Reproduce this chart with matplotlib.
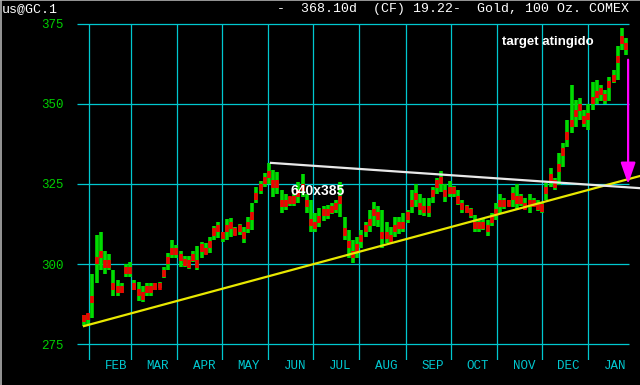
import matplotlib
matplotlib.use('Agg')
import matplotlib.pyplot as plt
from matplotlib.lines import Line2D
import pandas as pd
import numpy as np

# daily-ish bars (every ~2 sessions), Jan 2002 - Jan 2003
hi = [284, 284.5, 297, 309, 310, 304, 303, 298, 295, 294,
      300, 300.5, 295, 294.5, 293, 294, 294, 294, 294.5, 299,
      303.5, 307.5, 306, 304, 302.5, 302.5, 304, 305.5, 307, 306.5,
      308.5, 312, 313, 310, 314, 314.5, 311.5, 312.5, 311.5, 314.7,
      319, 324, 326, 328.4, 331.5, 329.4, 328.7, 323, 322, 321,
      322, 325.6, 328, 322, 320, 316, 317.5, 318, 318.5, 319,
      320, 325.6, 314.7, 310.6, 307.5, 308.5, 310.6, 313, 317, 319.4,
      318, 317, 313, 311.5, 314.7, 314.7, 316, 317, 323, 325,
      322, 320.6, 320.6, 324, 327, 329, 325, 326, 324.5, 323,
      320, 318.5, 317.5, 315.3, 313.8, 314.4, 313.8, 316, 319, 322,
      320.6, 320, 324, 325, 322, 320.6, 322, 320.6, 320, 319.4,
      325.3, 330, 327, 334.7, 337.8, 345, 356, 351.25, 352, 348,
      350, 357, 357.5, 356, 354.4, 358.4, 360.6, 368, 373.7, 370.6]
lo = [280.5, 280.5, 283, 294, 298, 297, 298, 290, 290, 291,
      296, 296, 292, 288.5, 288, 290, 290, 292, 292.5, 295.7,
      298, 302, 302, 299, 299, 298.5, 300.5, 298, 302, 303,
      303.5, 307.5, 308, 307, 307.5, 308.5, 309, 309, 306.5, 309.7,
      310.6, 319, 322, 324, 325, 321, 322, 316, 317, 318,
      318, 319, 321, 316, 310, 310, 311.5, 313.5, 314, 315.5,
      316, 314.7, 307.5, 302, 300.3, 302, 305, 308.5, 310, 312,
      311.5, 305, 306.5, 306.5, 308.5, 309.5, 310, 312.8, 316, 317.8,
      315.3, 315, 314.7, 319, 322, 322.5, 319.4, 321, 321, 318.4,
      316, 316, 314.4, 310, 310, 310.6, 308.75, 312, 313.8, 316,
      317.2, 318, 317.8, 317, 318, 317.2, 316, 318, 316.5, 316,
      320, 324, 323, 324.7, 330.3, 336.6, 341, 342.8, 345, 342.8,
      342, 348, 350, 351, 350, 351, 356.5, 357.5, 366.9, 365.3]
cl = [283, 283.5, 289, 301, 303, 300, 300, 293, 292, 292,
      298, 298, 293, 291, 290, 292, 292, 293, 293, 297,
      301, 304, 304, 302, 300.5, 300, 302, 300, 305, 304,
      306, 310, 311, 309, 311, 312, 310, 311, 309, 312,
      315, 321, 324, 326, 328, 325, 325, 319, 319, 320,
      320, 322, 324, 319, 313, 312, 314, 316, 316, 317,
      318, 320, 310, 306, 303, 305, 308, 311, 313, 316,
      315, 309, 309, 308, 311, 312, 312, 315, 319, 321,
      318, 317, 317, 322, 325, 326, 322, 323, 323, 320,
      318, 317, 316, 312, 312, 312, 311, 314, 316, 319,
      319, 319, 321, 320, 320, 318, 319, 319, 318, 317.5,
      323, 327, 325, 330, 335, 340, 344, 347, 349, 345,
      346, 351, 353, 354, 352, 356, 358, 364, 370, 368.1]

months = ['FEB', 'MAR', 'APR', 'MAY', 'JUN', 'JUL', 'AUG', 'SEP', 'OCT', 'NOV', 'DEC', 'JAN']
month_starts = pd.date_range('2002-02-01', '2003-01-01', freq='MS')
yticks = [275, 300, 325, 350, 375]

# trend lines and target arrow
yellow_d = ['2002-01-28 16:00', '2003-02-04 18:00']
yellow_p = [280.6, 327.5]
white_d = ['2002-06-02 20:00', '2003-02-04 18:00']
white_p = [331.6, 323.7]
arrow_d = '2003-01-27 20:00'
arrow_p = [364.7, 324.1]

GREEN = '#00dc00'
RED = '#f00000'
CYAN = '#00c8d0'

dates = pd.date_range('2002-01-28 16:00', '2003-01-26 14:00', periods=len(hi))

fig = plt.figure(figsize=(6.4, 3.85), dpi=100, facecolor='black')
ax = fig.add_axes([77/640, 1 - 360/385, 1 - 77/640, 340/385])
ax.set_facecolor('black')
for s in ax.spines.values():
    s.set_visible(False)

x0 = pd.Timestamp('2002-01-24')
x1 = pd.Timestamp('2003-02-04 19:00')
ax.set_xlim(x0, x1)
ax.set_ylim(270, 376.25)

# grid
ax.hlines(yticks, x0, pd.Timestamp('2003-01-28 10:00'), color=CYAN, lw=0.9, zorder=1)
ax.vlines(month_starts, 270, 375, color=CYAN, lw=0.9, zorder=1)

# price bars
hi_a, lo_a, cl_a = np.array(hi), np.array(lo), np.array(cl)
ax.vlines(dates, lo_a, hi_a, color=GREEN, lw=2.6, zorder=3)
ax.vlines(dates, cl_a - 1.1, cl_a + 1.1, color=RED, lw=2.6, zorder=4)

ax.plot(pd.to_datetime(yellow_d), yellow_p, color='#e8e800', lw=1.6, zorder=5)
ax.plot(pd.to_datetime(white_d), white_p, color='#e8e8e8', lw=1.6, zorder=5)
ax.annotate('', xy=(pd.Timestamp(arrow_d), arrow_p[1]), xytext=(pd.Timestamp(arrow_d), arrow_p[0]),
            arrowprops=dict(arrowstyle='-|>,head_width=0.45,head_length=1.3', color='#ff00ff', lw=1.6),
            zorder=6)

ax.set_xticks([])
ax.set_yticks(yticks)
ax.set_yticklabels([str(v) for v in yticks], family='Liberation Mono', fontsize=9)
ax.tick_params(axis='y', length=0, pad=9.4, labelcolor='#00d000')

for d, m in zip(month_starts, months):
    ax.text(d + pd.Timedelta(days=18), 268.1, m, color=CYAN, family='Liberation Mono',
            fontsize=9, ha='center', va='center', clip_on=False)

fig.text(502/640, 1 - 42/385, 'target atingido', color='white',
         fontsize=9.5, fontweight='bold', family='Liberation Sans', ha='left', va='center')
fig.text(318/640, 1 - 191/385, '640x385', color='white', fontsize=10, fontweight='bold',
         family='Liberation Sans', ha='center', va='center', zorder=10)

fig.text(2/640, 1 - 9/385, 'us@GC.1', color='white', family='Liberation Mono',
         fontsize=9.5, ha='left', va='center')
fig.text(629/640, 1 - 9/385, '-  368.10d  (CF) 19.22-  Gold, 100 Oz. COMEX', color='white',
         family='Liberation Mono', fontsize=9.5, ha='right', va='center')

# grey frame on left/top edges
fig.add_artist(Line2D([0.001, 0.001], [0, 1], transform=fig.transFigure, color='#b0b0b0', lw=1.2))
fig.add_artist(Line2D([0, 1], [0.999, 0.999], transform=fig.transFigure, color='#b0b0b0', lw=1.2))

fig.savefig('out.png', dpi=100, facecolor='black')
